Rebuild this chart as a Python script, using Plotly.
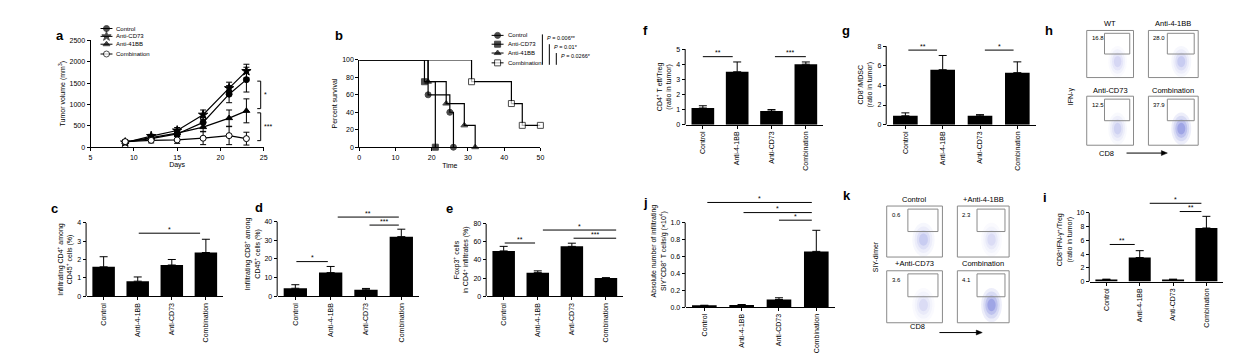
import plotly.graph_objects as go

W, H = 1242, 364
FONT = "Liberation Sans, Arial, sans-serif"


def X(px):
    return px / W


def Y(py):
    return 1 - py / H


# ---------------- data ----------------
cats = ["Control", "Anti-4-1BB", "Anti-CD73", "Combination"]

# panel a: tumour growth
days = [9, 12, 15, 18, 21, 23]
a_control = [120, 200, 310, 580, 1240, 1580]
a_control_err = [40, 50, 60, 110, 200, 290]
a_cd73 = [110, 260, 390, 760, 1380, 1780]
a_cd73_err = [30, 40, 70, 110, 140, 160]
a_41bb = [120, 230, 330, 470, 680, 850]
a_41bb_err = [30, 40, 60, 100, 190, 280]
a_comb = [130, 160, 170, 210, 270, 200]
a_comb_err = [40, 60, 80, 150, 210, 150]

# panel b: survival
b_control_t = [0, 19, 25, 26]
b_control_s = [100, 60, 40, 0]
b_cd73_t = [0, 18, 21]
b_cd73_s = [100, 75, 0]
b_41bb_t = [0, 19, 24, 29, 32]
b_41bb_s = [100, 75, 50, 25, 0]
b_comb_t = [0, 31, 42, 45, 50]
b_comb_s = [100, 75, 50, 25, 25]
b_pvalues = ["0.006**", "0.01*", "0.0266*"]

# bar panels: means and upper SEM
c_vals = [1.6, 0.82, 1.7, 2.38]
c_err = [0.55, 0.23, 0.3, 0.72]
d_vals = [4.3, 12.7, 3.5, 32.0]
d_err = [1.9, 3.3, 0.7, 4.0]
e_vals = [50, 26, 55, 20]
e_err = [5, 2, 3.5, 0.5]
f_vals = [1.1, 3.5, 0.9, 4.0]
f_err = [0.15, 0.65, 0.1, 0.15]
g_vals = [0.9, 5.6, 0.9, 5.3]
g_err = [0.3, 1.45, 0.12, 1.1]
i_vals = [0.3, 3.5, 0.3, 7.8]
i_err = [0.05, 1.0, 0.05, 1.7]
j_vals = [0.02, 0.025, 0.09, 0.66]
j_err = [0.0, 0.005, 0.02, 0.25]

# significance bars (from category, to category, height, label)
c_sig = [(1.03, 2.83, 3.43, "*")]
d_sig = [(0.03, 0.92, 18.6, "*"), (1.2, 2.93, 42.5, "**"), (2.1, 2.93, 38.2, "***")]
e_sig = [(0.03, 0.92, 58.7, "**"), (1.15, 3.3, 73, "*"), (2.05, 3.3, 64, "***")]
f_sig = [(0.0, 0.87, 4.5, "**"), (2.1, 3.0, 4.5, "***")]
g_sig = [(0.08, 0.85, 7.6, "**"), (2.13, 2.9, 7.6, "*")]
i_sig = [(0.1, 0.85, 5.4, "**"), (1.3, 2.85, 11.4, "*"), (2.2, 2.85, 10.2, "**")]
j_sig = [(0.08, 2.88, 1.24, "*"), (1.05, 2.88, 1.12, "*"), (2.0, 2.88, 1.03, "*")]

# flow panels
h_titles = ["WT", "Anti-4-1BB", "Anti-CD73", "Combination"]
h_freqs = ["16.8", "28.0", "12.5", "37.9"]
h_density = [0.35, 0.45, 0.4, 0.95]
k_titles = ["Control", "+Anti-4-1BB", "+Anti-CD73", "Combination"]
k_freqs = ["0.6", "2.3", "3.6", "4.1"]
k_density = [0.45, 0.3, 0.3, 0.95]

# ---------------- figure ----------------
fig = go.Figure()

axis_base = dict(showline=True, linecolor="black", linewidth=1, ticks="outside",
                 ticklen=3, tickwidth=1, tickcolor="black", showgrid=False,
                 zeroline=False, fixedrange=True,
                 tickfont=dict(size=7, family=FONT, color="black"))
title_font = dict(size=7, family=FONT, color="black")

# panel domains in pixels: (x0, x1, ytop_of_axis, ybottom)
doms = {
    1: (89, 263, 37, 146),    # a
    2: (359, 541, 57, 146),   # b
    3: (687, 825, 46, 123),   # f
    4: (889, 1039, 43, 123),  # g
    5: (85, 222, 223, 298),   # c
    6: (277, 419, 222, 298),  # d
    7: (487, 624, 224, 298),  # e
    8: (687, 837, 223, 309),  # j
    9: (1093, 1227, 213, 283),  # i
}

layout_axes = {}
for n in (1, 2):
    x0, x1, yt, yb = doms[n]
    s = "" if n == 1 else str(n)
    layout_axes["xaxis" + s] = dict(axis_base, domain=[X(x0), X(x1)], anchor="y" + s)
    layout_axes["yaxis" + s] = dict(axis_base, domain=[Y(yb), Y(yt)], anchor="x" + s)

annotations = []
shapes = []

# ---- panel a ----
series_a = [
    ("Control", a_control, a_control_err, "circle", "black"),
    ("Anti-CD73", a_cd73, a_cd73_err, "star", "black"),
    ("Anti-41BB", a_41bb, a_41bb_err, "triangle-up", "black"),
    ("Combination", a_comb, a_comb_err, "circle", "white"),
]
for name, vals, errs, sym, fill in series_a:
    fig.add_trace(go.Scatter(
        x=days, y=vals, mode="lines+markers", name=name, showlegend=False,
        line=dict(color="black", width=1.2),
        marker=dict(symbol=sym, size=6 if sym != "star" else 7, color=fill,
                    line=dict(color="black", width=1)),
        error_y=dict(type="data", array=errs, color="black", thickness=1, width=3),
        xaxis="x", yaxis="y", cliponaxis=False))
layout_axes["xaxis"].update(range=[5, 25], tickvals=[5, 10, 15, 20, 25],
                            title=dict(text="Days", font=title_font, standoff=2))
layout_axes["yaxis"].update(range=[0, 2500], dtick=500,
                            title=dict(text="Tumor volume (mm<sup>3</sup>)", font=title_font, standoff=3))

# brackets in panel a
for (y0, y1, lab) in [(1545, 902, "*"), (803, 153, "***")]:
    shapes.append(dict(type="path", xref="x", yref="y",
                       path="M 24.25,%g L 24.65,%g L 24.65,%g L 24.25,%g" % (y0, y0, y1, y1),
                       line=dict(color="black", width=1)))
    annotations.append(dict(x=24.75, y=(y0 + y1) / 2, xref="x", yref="y", text=lab,
                            showarrow=False, xanchor="left", yanchor="middle",
                            font=dict(size=7, family=FONT, color="black")))

# ---- panel b ----
series_b = [
    ("Control", b_control_t, b_control_s, "circle", "black"),
    ("Anti-CD73", b_cd73_t, b_cd73_s, "square", "black"),
    ("Anti-41BB", b_41bb_t, b_41bb_s, "triangle-up", "black"),
    ("Combination", b_comb_t, b_comb_s, "square", "white"),
]
for name, t, s, sym, fill in series_b:
    sizes = [0] + [6] * (len(t) - 1)
    fig.add_trace(go.Scatter(
        x=t, y=s, mode="lines+markers", name=name, showlegend=False,
        line=dict(color="black", width=1.2, shape="hv"),
        marker=dict(symbol=sym, size=sizes, color=fill, line=dict(color="black", width=1)),
        xaxis="x2", yaxis="y2", cliponaxis=False))
layout_axes["xaxis2"].update(range=[0, 50], dtick=10,
                             title=dict(text="Time", font=title_font, standoff=3))
layout_axes["yaxis2"].update(range=[0, 100], dtick=20,
                             title=dict(text="Percent survival", font=title_font, standoff=3))

# ---- bar panels ----
bar_panels = [
    (3, f_vals, f_err, f_sig, 5, 1, "CD4<sup>+</sup> T eff/Treg<br>(ratio in tumor)"),
    (4, g_vals, g_err, g_sig, 8, 2, "CD8<sup>+</sup>/MDSC<br>(ratio in tumor)"),
    (5, c_vals, c_err, c_sig, 4, 1, "Infiltrating CD4<sup>+</sup> among<br>CD45<sup>+</sup> cells (%)"),
    (6, d_vals, d_err, d_sig, 40, 10, "Infiltrating CD8<sup>+</sup> among<br>CD45<sup>+</sup> cells (%)"),
    (7, e_vals, e_err, e_sig, 80, 20, "Foxp3<sup>+</sup> cells<br>in CD4<sup>+</sup> infiltrates (%)"),
    (8, j_vals, j_err, j_sig, 1.0, 0.2, "Absolute number of infiltrating<br>SIY<sup>+</sup>CD8<sup>+</sup> T cells/g (×10<sup>4</sup>)"),
    (9, i_vals, i_err, i_sig, 10, 2, "CD8<sup>+</sup>IFN-γ<sup>+</sup>/Treg<br>(ratio in tumor)"),
]
for n, vals, errs, sigs, tmax, dt, ytitle in bar_panels:
    x0, x1, yt, yb = doms[n]
    xa, ya = "x%d" % n, "y%d" % n
    # extend the value range upward so significance bars fit, keeping the same scale
    ext = max(tmax, max(sg[2] for sg in sigs) * 1.07)
    top_px = yb - (yb - yt) * ext / tmax
    layout_axes["xaxis%d" % n] = dict(axis_base, domain=[X(x0), X(x1)], anchor=ya,
                                      type="category", range=[-0.5, 3.5], tickangle=-90,
                                      categoryorder="array", categoryarray=cats)
    ticks = []
    k = 0
    while k * dt <= tmax + 1e-9:
        ticks.append(round(k * dt, 6))
        k += 1
    layout_axes["yaxis%d" % n] = dict(axis_base, domain=[Y(yb), Y(top_px)], anchor=xa,
                                      showline=False, range=[0, ext], tickvals=ticks,
                                      tickformat=".1f" if n == 8 else "",
                                      title=dict(text=ytitle, font=title_font, standoff=3))
    # y axis line only up to the top tick
    shapes.append(dict(type="line", xref="paper", yref=ya, x0=X(x0 - 0.5), x1=X(x0 - 0.5),
                       y0=0, y1=tmax, line=dict(color="black", width=1)))
    fig.add_trace(go.Bar(
        x=cats, y=vals, width=0.66, marker=dict(color="black", line=dict(width=0)),
        error_y=dict(type="data", symmetric=False, array=errs, arrayminus=[0] * 4,
                     color="black", thickness=1, width=4),
        xaxis=xa, yaxis=ya, showlegend=False))
    for (s0, s1, yv, lab) in sigs:
        shapes.append(dict(type="line", xref=xa, yref=ya, x0=s0, x1=s1, y0=yv, y1=yv,
                           line=dict(color="black", width=1)))
        annotations.append(dict(x=(s0 + s1) / 2, y=yv, xref=xa, yref=ya, text=lab,
                                showarrow=False, yanchor="middle", yshift=4,
                                font=dict(size=7, family=FONT, color="black")))

# ---- legends (manual, compact) on small hidden pixel-space overlays ----
legend_a = [(25, "circle", "black", 6, "Control"), (33, "star", "black", 7, "Anti-CD73"),
            (41, "triangle-up", "black", 6, "Anti-41BB"), (51, "circle", "white", 6, "Combination")]
legend_b = [(32, "circle", "black", 6, "Control"), (41, "square", "black", 6, "Anti-CD73"),
            (50, "triangle-up", "black", 6, "Anti-41BB"), (60, "square", "white", 6, "Combination")]
for idx, (lx, items, box) in enumerate([(105, legend_a, (95, 115, 20, 56)),
                                        (498, legend_b, (488, 508, 27, 65))]):
    xn, yn = "x%d" % (20 + idx), "y%d" % (20 + idx)
    bx0, bx1, by0, by1 = box
    layout_axes["xaxis%d" % (20 + idx)] = dict(domain=[X(bx0), X(bx1)], range=[bx0, bx1],
                                                visible=False, fixedrange=True, anchor=yn)
    layout_axes["yaxis%d" % (20 + idx)] = dict(domain=[Y(by1), Y(by0)], range=[by1, by0],
                                                visible=False, fixedrange=True, anchor=xn)
    for yy, sym, fill, sz, lab in items:
        fig.add_trace(go.Scatter(
            x=[lx - 6, lx, lx + 6], y=[yy, yy, yy], mode="lines+markers", showlegend=False,
            line=dict(color="black", width=1),
            marker=dict(symbol=sym, size=[0, sz, 0], color=fill, line=dict(color="black", width=1)),
            xaxis=xn, yaxis=yn, hoverinfo="skip", cliponaxis=False))
        annotations.append(dict(x=X(lx + 8), y=Y(yy), xref="paper", yref="paper", text=lab,
                                showarrow=False, xanchor="left", yanchor="middle",
                                font=dict(size=6, family=FONT, color="black")))

p_pos = [(543, 31, 35), (550, 41, 44), (557, 50, 53)]
for (xx, ytop, ytxt), pv in zip(p_pos, b_pvalues):
    shapes.append(dict(type="line", xref="paper", yref="paper", x0=X(xx), x1=X(xx),
                       y0=Y(ytop), y1=Y(62), line=dict(color="black", width=1)))
    annotations.append(dict(x=X(xx + 3), y=Y(ytxt), xref="paper", yref="paper",
                            text="<i>P</i> = " + pv, showarrow=False, xanchor="left",
                            yanchor="middle", font=dict(size=5.5, family=FONT, color="black")))


# ---- flow cytometry panels ----
def flow_panel(boxes, titles, freqs, dens, title_ys):
    for (bx0, by0, bx1, by1), t, fr, dn, ty in zip(boxes, titles, freqs, dens, title_ys):
        bw, bh = bx1 - bx0, by1 - by0
        cx, cy = bx0 + 0.66 * bw, by0 + 0.66 * bh
        for (rx, ry, op) in [(0.2, 0.33, 0.10 * dn), (0.16, 0.26, 0.14 * dn),
                             (0.12, 0.19, 0.2 * dn), (0.08, 0.12, 0.3 * dn)]:
            shapes.append(dict(type="circle", xref="paper", yref="paper", layer="below",
                               x0=X(cx - rx * bw), x1=X(cx + rx * bw),
                               y0=Y(cy + ry * bh), y1=Y(cy - ry * bh),
                               fillcolor="rgba(80,90,210,%.2f)" % op, line=dict(width=0)))
        shapes.append(dict(type="rect", xref="paper", yref="paper", x0=X(bx0), x1=X(bx1),
                           y0=Y(by1), y1=Y(by0), line=dict(color="#8a8a8a", width=1)))
        shapes.append(dict(type="rect", xref="paper", yref="paper",
                           x0=X(bx0 + 0.38 * bw), x1=X(bx0 + 0.92 * bw),
                           y0=Y(by0 + 0.5 * bh), y1=Y(by0 + 0.06 * bh),
                           line=dict(color="#8a8a8a", width=1)))
        annotations.append(dict(x=X((bx0 + bx1) / 2), y=Y(ty), xref="paper", yref="paper",
                                text=t, showarrow=False, xanchor="center", yanchor="middle",
                                font=dict(size=7.5, family=FONT, color="black")))
        annotations.append(dict(x=X(bx0 + 3), y=Y(by0 + 0.17 * bh), xref="paper", yref="paper",
                                text=fr, showarrow=False, xanchor="left", yanchor="middle",
                                font=dict(size=6, family=FONT, color="black")))


flow_panel([(1090, 27, 1137, 75), (1152, 27, 1202, 75), (1090, 94, 1137, 144), (1152, 94, 1202, 144)],
           h_titles, h_freqs, h_density, [20, 20, 88, 88])
flow_panel([(889, 206, 945, 258), (960, 206, 1012, 258), (889, 272, 945, 325), (960, 272, 1012, 325)],
           k_titles, k_freqs, k_density, [199, 199, 265, 265])

# y label of panel h as a rotated annotation
annotations.append(dict(x=X(1081), y=Y(83), xref="paper", yref="paper", text="IFN-γ",
                        textangle=-90, showarrow=False,
                        font=dict(size=7, family=FONT, color="black")))
# y label of panel k as the title of a narrow hidden axis
layout_axes["xaxis31"] = dict(domain=[X(884), X(887)], anchor="y31", showline=False,
                              showticklabels=False, ticks="", showgrid=False,
                              zeroline=False, fixedrange=True, range=[0, 1])
layout_axes["yaxis31"] = dict(domain=[Y(311), Y(205)], anchor="x31", showline=False,
                              showticklabels=False, ticks="", showgrid=False,
                              zeroline=False, fixedrange=True, range=[0, 1], side="left",
                              title=dict(text="SIY-dimer", font=title_font, standoff=1))
fig.add_trace(go.Scatter(x=[0.5], y=[0.5], mode="markers", marker=dict(opacity=0, size=1),
                         xaxis="x31", yaxis="y31", showlegend=False, hoverinfo="skip"))

for (tx, ty, ax0, ax1) in [(1119, 152, 1130, 1171), (929, 335, 942, 985)]:
    annotations.append(dict(x=X(tx), y=Y(ty), xref="paper", yref="paper", text="CD8",
                            showarrow=False, font=dict(size=7.5, family=FONT, color="black")))
    shapes.append(dict(type="line", xref="paper", yref="paper", x0=X(ax0), x1=X(ax1 - 4),
                       y0=Y(ty), y1=Y(ty), line=dict(color="black", width=1)))
    shapes.append(dict(type="path", xref="paper", yref="paper",
                       path="M %f,%f L %f,%f L %f,%f Z" % (X(ax1), Y(ty), X(ax1 - 6), Y(ty - 2.5),
                                                         X(ax1 - 6), Y(ty + 2.5)),
                       fillcolor="black", line=dict(color="black", width=0.5)))

# ---- panel letters ----
letters = [("a", 52, 22), ("b", 333, 22), ("f", 647, 17), ("g", 854, 17), ("h", 1058, 17),
           ("c", 47, 208), ("d", 252, 207), ("e", 450, 208), ("j", 647, 202), ("k", 855, 195),
           ("i", 1052, 197)]
for lt, lx, ly in letters:
    annotations.append(dict(x=X(lx), y=Y(ly), xref="paper", yref="paper", text="<b>%s</b>" % lt,
                            showarrow=False, font=dict(size=13, family=FONT, color="black")))

fig.update_layout(
    width=W, height=H, margin=dict(l=0, r=0, t=0, b=0),
    paper_bgcolor="white", plot_bgcolor="rgba(0,0,0,0)", showlegend=False,
    hovermode=False, dragmode=False,
    font=dict(family=FONT, color="black"),
    annotations=annotations, shapes=shapes, bargap=0.34,
    **layout_axes)

fig.write_html("out.html", config={"displayModeBar": False},
               post_script="document.body.style.margin='0';document.body.style.overflow='hidden';")
